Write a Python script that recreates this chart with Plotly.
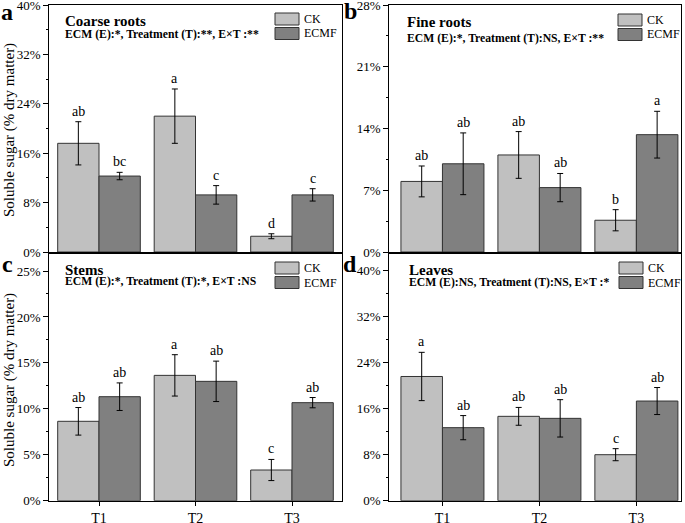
import plotly.graph_objects as go

W, H = 685, 523
FONT = "Liberation Serif"

treatments = ["T1", "T2", "T3"]
groups = ["CK", "ECMF"]
group_colors = {"CK": "#c0c0c0", "ECMF": "#808080"}

# Coarse roots (a)
coarse_ck = [17.6, 22.0, 2.55]
coarse_ck_err = [3.5, 4.4, 0.4]
coarse_ecmf = [12.3, 9.25, 9.25]
coarse_ecmf_err = [0.6, 1.5, 1.0]
coarse_ck_letters = ["ab", "a", "d"]
coarse_ecmf_letters = ["bc", "c", "c"]

# Fine roots (b)
fine_ck = [8.0, 11.0, 3.6]
fine_ck_err = [1.75, 2.65, 1.2]
fine_ecmf = [10.0, 7.3, 13.3]
fine_ecmf_err = [3.5, 1.6, 2.65]
fine_ck_letters = ["ab", "ab", "b"]
fine_ecmf_letters = ["ab", "ab", "a"]

# Stems (c)
stem_ck = [8.64, 13.64, 3.34]
stem_ck_err = [1.5, 2.25, 1.15]
stem_ecmf = [11.32, 12.99, 10.67]
stem_ecmf_err = [1.5, 2.2, 0.56]
stem_ck_letters = ["ab", "a", "c"]
stem_ecmf_letters = ["ab", "ab", "ab"]

# Leaves (d)
leaf_ck = [21.6, 14.67, 8.0]
leaf_ck_err = [4.2, 1.55, 1.05]
leaf_ecmf = [12.7, 14.32, 17.33]
leaf_ecmf_err = [2.1, 3.25, 2.35]
leaf_ck_letters = ["a", "ab", "c"]
leaf_ecmf_letters = ["ab", "ab", "ab"]

panel_titles = ["Coarse roots", "Fine roots", "Stems", "Leaves"]
panel_stats = [
    "ECM (E):*, Treatment (T):**, E×T :**",
    "ECM (E):*, Treatment (T):NS, E×T :**",
    "ECM (E):*, Treatment (T):*, E×T :NS",
    "ECM (E):NS, Treatment (T):NS, E×T :*",
]
panel_tags = ["a", "b", "c", "d"]
y_dticks = [8, 7, 5, 8]
y_tops = [40.0, 28.0, 26.85, 42.9]
y_label = "Soluble sugar (% dry matter)"


def px(x):
    return x / W


def py(y):
    return 1 - y / H


panels = [
    (coarse_ck, coarse_ck_err, coarse_ecmf, coarse_ecmf_err, coarse_ck_letters, coarse_ecmf_letters),
    (fine_ck, fine_ck_err, fine_ecmf, fine_ecmf_err, fine_ck_letters, fine_ecmf_letters),
    (stem_ck, stem_ck_err, stem_ecmf, stem_ecmf_err, stem_ck_letters, stem_ecmf_letters),
    (leaf_ck, leaf_ck_err, leaf_ecmf, leaf_ecmf_err, leaf_ck_letters, leaf_ecmf_letters),
]

# pixel geometry of each panel: (left, right, top, bottom)
geo = [
    (49.3, 341.7, 5, 252),
    (389.3, 681, 5, 252),
    (49.3, 341.7, 254, 500.7),
    (389.3, 681, 254, 500.7),
]
x_ranges = [[0.485, 3.515], [0.452, 3.46], [0.485, 3.515], [0.452, 3.46]]

# position of the inside texts & legend (pixels)
title_pos = [(63, 21), (405, 22), (63, 270), (406.7, 270)]
stat_pos = [(63, 35), (405, 38.5), (63, 281.5), (406.7, 282.5)]
legend_pos = [(275, 13), (618, 14), (275, 262), (619, 262)]
tag_pos = [(7, 12), (350, 11), (7, 264), (350, 264)]

fig = go.Figure()
xpos = [i + 1 for i in range(len(treatments))]
bargap = 0.144
bar_w = (1 - bargap) / 2

annotations = []
shapes = []
layout_axes = {}

for p, (ck, ck_e, ec, ec_e, ck_l, ec_l) in enumerate(panels):
    sx = "" if p == 0 else str(p + 1)
    xa, ya = "x" + sx, "y" + sx
    for g, vals, errs in (("CK", ck, ck_e), ("ECMF", ec, ec_e)):
        fig.add_trace(go.Bar(
            x=xpos, y=vals, name=g, xaxis=xa, yaxis=ya, showlegend=False,
            offsetgroup=g,
            marker=dict(color=group_colors[g], line=dict(color="#333333", width=1)),
            error_y=dict(type="data", array=errs, color="black", thickness=1, width=3),
        ))
    for i in range(len(treatments)):
        for off, vals, errs, labs in ((-bar_w / 2, ck, ck_e, ck_l), (bar_w / 2, ec, ec_e, ec_l)):
            annotations.append(dict(
                x=xpos[i] + off, y=vals[i] + errs[i], xref=xa, yref=ya,
                text=labs[i], showarrow=False, yanchor="bottom", yshift=1,
                font=dict(family=FONT, size=14, color="black"),
            ))
    l, r, t, b = geo[p]
    bottom_row = p >= 2
    layout_axes["xaxis" + sx] = dict(
        domain=[px(l), px(r)], range=x_ranges[p], anchor=ya,
        showline=True, linecolor="black", linewidth=1, mirror=True,
        showgrid=False, zeroline=False, automargin=False,
        tickvals=xpos, ticktext=treatments,
        showticklabels=bottom_row,
        ticks="outside" if bottom_row else "", ticklen=4, tickcolor="black",
        tickfont=dict(family=FONT, size=14, color="black"),
        ticklabeloverflow="allow",
    )
    layout_axes["yaxis" + sx] = dict(
        domain=[py(b), py(t)], range=[0, y_tops[p]], anchor=xa,
        showline=True, linecolor="black", linewidth=1, mirror=True,
        showgrid=False, zeroline=False, automargin=False,
        tick0=0, dtick=y_dticks[p], ticksuffix="%",
        ticks="outside", ticklen=5, tickcolor="black",
        minor=dict(ticks="outside", ticklen=2.5, tickcolor="black", dtick=y_dticks[p] / 2),
        tickfont=dict(family=FONT, size=13, color="black"),
        ticklabeloverflow="allow",
    )
    # panel texts
    tx, ty = title_pos[p]
    annotations.append(dict(x=px(tx), y=py(ty), xref="paper", yref="paper",
                            text="<b>" + panel_titles[p] + "</b>", showarrow=False,
                            xanchor="left", yanchor="middle",
                            font=dict(family=FONT, size=15, color="black")))
    sx_, sy_ = stat_pos[p]
    annotations.append(dict(x=px(sx_), y=py(sy_), xref="paper", yref="paper",
                            text="<b>" + panel_stats[p] + "</b>", showarrow=False,
                            xanchor="left", yanchor="middle",
                            font=dict(family=FONT, size=11.7, color="black")))
    gx, gy = tag_pos[p]
    annotations.append(dict(x=px(gx), y=py(gy), xref="paper", yref="paper",
                            text="<b>" + panel_tags[p] + "</b>", showarrow=False,
                            xanchor="center", yanchor="middle",
                            font=dict(family=FONT, size=24, color="black")))
    # legend
    lx, lyy = legend_pos[p]
    for k, g in enumerate(groups):
        y0 = lyy + k * 14.5
        shapes.append(dict(type="rect", xref="paper", yref="paper",
                           x0=px(lx), x1=px(lx + 24), y0=py(y0), y1=py(y0 + 12),
                           fillcolor=group_colors[g], line=dict(color="#333333", width=1)))
        annotations.append(dict(x=px(lx + 27), y=py(y0 + 6), xref="paper", yref="paper",
                                text=g, showarrow=False, xanchor="left", yanchor="middle",
                                font=dict(family=FONT, size=12, color="black")))

# y-axis titles for left column
for yc in (130, 380):
    annotations.append(dict(x=px(9), y=py(yc), xref="paper", yref="paper",
                            text=y_label, showarrow=False, textangle=-90,
                            xanchor="center", yanchor="middle",
                            font=dict(family=FONT, size=15, color="black")))

fig.update_layout(
    width=W, height=H, margin=dict(l=0, r=0, t=0, b=0, autoexpand=False),
    paper_bgcolor="white", plot_bgcolor="white",
    barmode="group", bargap=bargap, bargroupgap=0,
    annotations=annotations, shapes=shapes,
    **layout_axes,
)

fig.write_html(
    "out.html",
    config={"displayModeBar": False},
    post_script="document.body.style.margin='0';document.body.style.padding='0';"
                "document.documentElement.style.overflow='hidden';",
)
